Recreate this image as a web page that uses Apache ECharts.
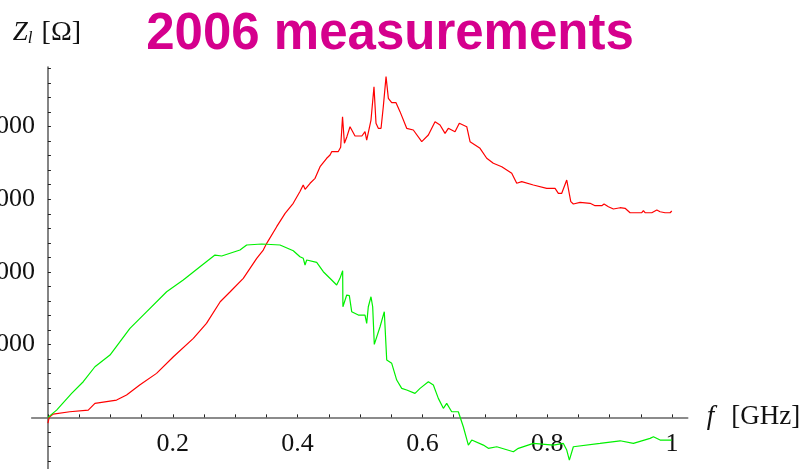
<!DOCTYPE html>
<html>
<head>
<meta charset="utf-8">
<script src="https://cdn.jsdelivr.net/npm/echarts@6/dist/echarts.min.js"></script>
<style>
  html, body { margin: 0; padding: 0; background: #fff; }
  #chart { width: 804px; height: 469px; }
</style>
</head>
<body>
<div id="chart"></div>
<script>
// Longitudinal impedance, 2006 measurements: real part (red) and imaginary part (green)
const redFreq = [0, 0.002, 0.0085, 0.035, 0.0646, 0.0753, 0.110, 0.126, 0.147, 0.174, 0.201, 0.233, 0.254, 0.276, 0.292, 0.313, 0.3345, 0.345, 0.3505, 0.3665, 0.380, 0.393, 0.4038, 0.409, 0.412, 0.420, 0.428, 0.436, 0.4466, 0.452, 0.4546, 0.465, 0.469, 0.472, 0.475, 0.479, 0.484, 0.492, 0.503, 0.508, 0.5107, 0.513, 0.5176, 0.5224, 0.5256, 0.5293, 0.5337, 0.5373, 0.5417, 0.5454, 0.5508, 0.5577, 0.5641, 0.5748, 0.5854, 0.5989, 0.6095, 0.6202, 0.6282, 0.6362, 0.6415, 0.6522, 0.6591, 0.671, 0.6763, 0.6923, 0.703, 0.7136, 0.7271, 0.7431, 0.7511, 0.7591, 0.7777, 0.7992, 0.8125, 0.8178, 0.8232, 0.8312, 0.8377, 0.8418, 0.8526, 0.8686, 0.8766, 0.8873, 0.891, 0.898, 0.906, 0.9167, 0.9247, 0.9327, 0.9514, 0.954, 0.9567, 0.9675, 0.9755, 0.9808, 0.9888, 0.9968, 0.9995];
const redZ = [-80, 0, 45, 77, 100, 193, 238, 307, 444, 605, 834, 1087, 1293, 1590, 1728, 1912, 2187, 2301, 2393, 2622, 2806, 2944, 3105, 3195, 3136, 3219, 3287, 3447, 3563, 3608, 3653, 3653, 3714, 4135, 3769, 3860, 3997, 3869, 3869, 3928, 3814, 3791, 4089, 4547, 4044, 3975, 3975, 4272, 4685, 4388, 4327, 4327, 4204, 3975, 3952, 3791, 3883, 4066, 4021, 3906, 3975, 3928, 4044, 3997, 3791, 3700, 3563, 3494, 3447, 3356, 3219, 3241, 3195, 3150, 3150, 3081, 3081, 3264, 2966, 2934, 2957, 2944, 2911, 2911, 2934, 2897, 2865, 2883, 2875, 2814, 2814, 2842, 2814, 2814, 2851, 2828, 2814, 2814, 2838];

const greenFreq = [0, 0.0139, 0.038, 0.0566, 0.0753, 0.0994, 0.1314, 0.1527, 0.1902, 0.2168, 0.2436, 0.2676, 0.2784, 0.3077, 0.3184, 0.3425, 0.3718, 0.3931, 0.4038, 0.4091, 0.4119, 0.4146, 0.4306, 0.4412, 0.4546, 0.4626, 0.4679, 0.4722, 0.4726, 0.4787, 0.4829, 0.4867, 0.4973, 0.508, 0.5107, 0.5133, 0.5176, 0.5203, 0.5229, 0.5321, 0.5389, 0.5428, 0.5508, 0.5588, 0.5668, 0.5748, 0.5881, 0.5962, 0.6095, 0.6175, 0.6255, 0.6335, 0.6389, 0.6469, 0.6575, 0.6655, 0.6736, 0.679, 0.6976, 0.7056, 0.7191, 0.7457, 0.7537, 0.7777, 0.8098, 0.8258, 0.8312, 0.8354, 0.8418, 0.8846, 0.9167, 0.938, 0.9647, 0.9701, 0.9808, 0.9995];
const greenZ = [0, 100, 330, 490, 696, 857, 1224, 1407, 1728, 1889, 2072, 2232, 2219, 2301, 2370, 2384, 2370, 2292, 2209, 2187, 2095, 2164, 2132, 2003, 1889, 1820, 1912, 2016, 1521, 1682, 1673, 1453, 1407, 1407, 1293, 1521, 1659, 1521, 1004, 1246, 1453, 788, 743, 513, 399, 376, 330, 399, 490, 444, 261, 124, 193, 77, 77, -129, -381, -312, -381, -426, -404, -473, -426, -358, -381, -358, -450, -587, -404, -358, -322, -358, -289, -267, -312, -312];

// Tick positions and labels
const freqLabels = [0.2, 0.4, 0.6, 0.8, 1];
const freqTicks = [0, 0.05, 0.1, 0.15, 0.2, 0.25, 0.3, 0.35, 0.4, 0.45, 0.5, 0.55, 0.6, 0.65, 0.7, 0.75, 0.8, 0.85, 0.9, 0.95, 1];
const zLabels = [1000, 2000, 3000, 4000];
const zTicks = [-600, -400, -200, 200, 400, 600, 800, 1000, 1200, 1400, 1600, 1800, 2000, 2200, 2400, 2600, 2800, 3000, 3200, 3400, 3600, 3800, 4000, 4200, 4400, 4600, 4800];

const pairs = (xs, ys) => xs.map((x, i) => [x, ys[i]]);

const serif = '"Liberation Serif", "DejaVu Serif", serif';
const chart = echarts.init(document.getElementById('chart'), null, { renderer: 'canvas' });

chart.setOption({
  animation: false,
  backgroundColor: '#ffffff',
  title: {
    text: '2006 measurements',
    left: 385,
    textAlign: 'center',
    top: 4,
    textStyle: {
      fontFamily: '"Liberation Sans", Arial, sans-serif',
      fontWeight: 'bold',
      fontSize: 51,
      color: '#d5008d'
    }
  },
  grid: { left: 31.7, right: 116.3, top: 67, bottom: 0, containLabel: false, outerBoundsMode: 'none' },
  xAxis: {
    type: 'value',
    min: -0.026,
    max: 1.025,
    axisLine: { onZero: true, lineStyle: { color: '#666', width: 1.6 } },
    axisTick: { show: true, inside: true, length: 3, customValues: freqTicks, lineStyle: { color: '#222', width: 1 } },
    axisLabel: {
      customValues: freqLabels,
      formatter: v => String(v),
      // labels sit just under the zero line, which lies above the grid's bottom edge
      margin: -38,
      fontFamily: serif,
      fontSize: 26,
      color: '#111'
    },
    splitLine: { show: false },
    name: '{i|f}  {u|[GHz]}',
    nameLocation: 'end',
    nameGap: 19,
    nameTextStyle: {
      fontFamily: serif,
      fontSize: 26,
      color: '#111',
      rich: {
        i: { fontFamily: serif, fontStyle: 'italic', fontSize: 27, color: '#111' },
        u: { fontFamily: serif, fontSize: 27, color: '#111', padding: [0, 0, 0, 4] }
      }
    }
  },
  yAxis: {
    type: 'value',
    min: -710,
    max: 4818,
    axisLine: { onZero: true, lineStyle: { color: '#666', width: 1.6 } },
    axisTick: { show: true, inside: true, length: 3, customValues: zTicks, lineStyle: { color: '#222', width: 1 } },
    axisLabel: {
      customValues: zLabels,
      formatter: v => String(v),
      margin: -3.3,
      fontFamily: serif,
      fontSize: 26,
      color: '#111'
    },
    splitLine: { show: false },
    name: '{z|Z}{l|l} {u|[Ω]}',
    nameLocation: 'end',
    nameGap: 20,
    nameTextStyle: {
      fontFamily: serif,
      fontSize: 24,
      color: '#111',
      padding: [0, 2, 0, 0],
      rich: {
        z: { fontFamily: serif, fontStyle: 'italic', fontSize: 27, color: '#111' },
        l: { fontFamily: serif, fontStyle: 'italic', fontSize: 17, color: '#111', verticalAlign: 'bottom', padding: [10, 0, 0, 0] },
        u: { fontFamily: serif, fontSize: 28, color: '#111', padding: [0, 0, 0, 3] }
      }
    }
  },
  series: [
    {
      name: 'Re',
      type: 'line',
      data: pairs(redFreq, redZ),
      showSymbol: false,
      lineStyle: { color: '#ff0000', width: 1.2 },
      z: 3
    },
    {
      name: 'Im',
      type: 'line',
      data: pairs(greenFreq, greenZ),
      showSymbol: false,
      lineStyle: { color: '#00f000', width: 1.2 },
      z: 4
    }
  ]
});
</script>
</body>
</html>
